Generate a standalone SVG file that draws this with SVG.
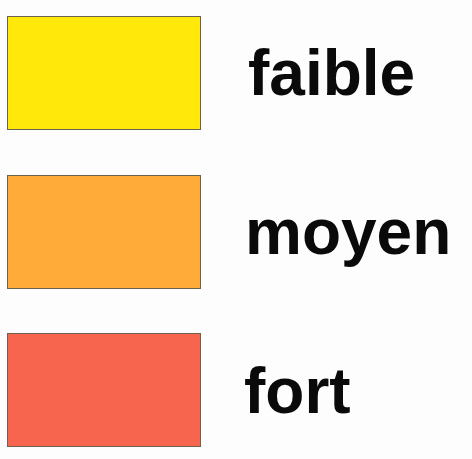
<svg xmlns="http://www.w3.org/2000/svg" width="472" height="459" viewBox="0 0 472 459">
<style>
.sw{stroke:#6b6250;stroke-width:1}
.lb{font-family:"Liberation Sans",Arial,sans-serif;font-weight:bold;font-size:64px;fill:#0a0a0a}
</style>
<rect width="472" height="459" fill="#fdfdfd"/>
<g id="faible">
<rect class="sw" x="7.5" y="16.5" width="193" height="113" fill="#ffe80a"/>
<text class="lb" x="248" y="95">faible</text>
</g>
<g id="moyen">
<rect class="sw" x="7.5" y="175.5" width="193" height="113" fill="#ffab3a"/>
<text class="lb" x="245" y="254">moyen</text>
</g>
<g id="fort">
<rect class="sw" x="7.5" y="333.5" width="193" height="113" fill="#f7654f"/>
<text class="lb" x="244" y="413">fort</text>
</g>
<g id="connectors"/>
</svg>
